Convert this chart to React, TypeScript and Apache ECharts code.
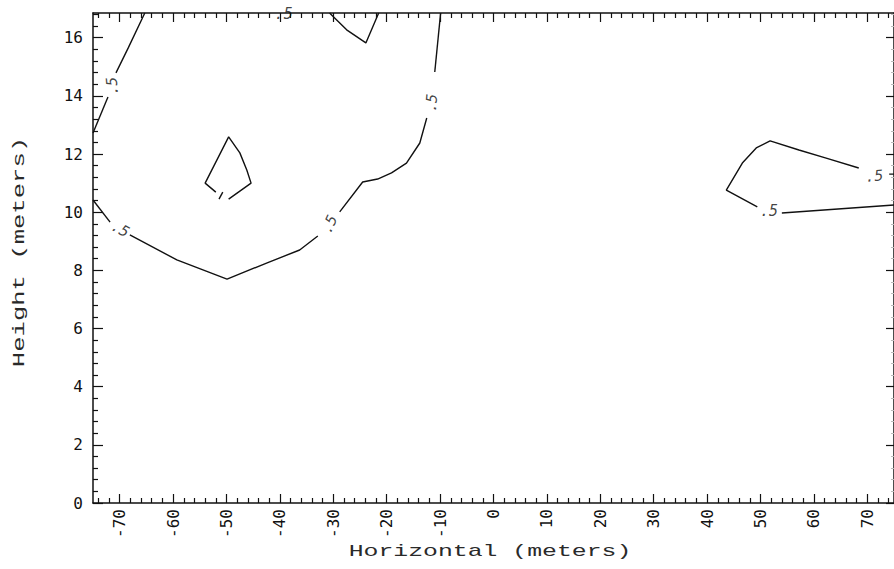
import React, { useEffect, useRef } from "react";
import * as echarts from "echarts";

// ---- axis ranges & ticks ----
const X_RANGE = [-75, 75];
const Y_RANGE = [0, 16.85];
const xMajorTicks = [-70, -60, -50, -40, -30, -20, -10, 0, 10, 20, 30, 40, 50, 60, 70];
const xMinorTicks = [-74, -72, -68, -66, -64, -62, -58, -56, -54, -52, -48, -46, -44, -42, -38, -36, -34, -32, -28, -26, -24, -22, -18, -16, -14, -12, -8, -6, -4, -2, 2, 4, 6, 8, 12, 14, 16, 18, 22, 24, 26, 28, 32, 34, 36, 38, 42, 44, 46, 48, 52, 54, 56, 58, 62, 64, 66, 68, 72, 74];
const yMajorTicks = [0, 2, 4, 6, 8, 10, 12, 14, 16];
const yMinorTicks = [0.4, 0.8, 1.2, 1.6, 2.4, 2.8, 3.2, 3.6, 4.4, 4.8, 5.2, 5.6, 6.4, 6.8, 7.2, 7.6, 8.4, 8.8, 9.2, 9.6, 10.4, 10.8, 11.2, 11.6, 12.4, 12.8, 13.2, 13.6, 14.4, 14.8, 15.2, 15.6, 16.4, 16.8];

// ---- contour (level .5) segments, [horizontal m, height m] ----
const contourA1 = [[-75.0, 10.42], [-71.8, 9.66]];
const contourA2 = [[-68.1, 9.22], [-59.3, 8.36], [-49.9, 7.7], [-42.5, 8.25], [-36.3, 8.7], [-32.9, 9.18]];
const contourA3 = [[-28.8, 10.01], [-24.5, 11.04], [-21.7, 11.14], [-19.1, 11.35], [-16.3, 11.69], [-13.8, 12.38], [-12.5, 13.24]];
const contourA4 = [[-11.0, 14.82], [-9.9, 16.85]];
const contourB1 = [[-65.3, 16.85], [-68.4, 15.65], [-70.7, 14.79]];
const contourB2 = [[-72.2, 13.96], [-75.0, 12.72]];
const contourC = [[-52.0, 10.69], [-54.0, 11.0], [-49.6, 12.59], [-47.5, 12.04], [-46.2, 11.45], [-45.4, 11.0], [-49.6, 10.45]];
const contourCMark = [[-51.4, 10.45], [-50.7, 10.69]];
const contourD = [[-30.7, 16.85], [-27.5, 16.27], [-23.9, 15.82], [-21.5, 16.85]];
const contourE1 = [[68.4, 11.52], [62.3, 11.86], [57.2, 12.14], [51.8, 12.45], [49.2, 12.21], [46.6, 11.69], [43.6, 10.76], [49.4, 10.18]];
const contourE2 = [[54.0, 9.97], [75.0, 10.25]];
const contourE3 = [[74.1, 11.31], [75.0, 11.31]];

const contourSegments = [contourA1, contourA2, contourA3, contourA4, contourB1, contourB2, contourC, contourCMark, contourD, contourE1, contourE2, contourE3];

// ---- contour labels ----
const contourLevelText = ".5";
const contourLabelPoints = [[-69.9, 9.42], [-30.7, 9.59], [-11.6, 13.76], [-71.4, 14.34], [-39.3, 16.8], [51.6, 10.03], [71.3, 11.24]];
const contourLabelAngles = [-28, 65, 85, 95, 0, 0, 5];

const INK = "#111";
const MONO = '"DejaVu Sans Mono", "Liberation Mono", monospace';
const TITLE_FONT = '"Liberation Mono", "DejaVu Sans Mono", monospace';

export default function App() {
  const ref = useRef<HTMLDivElement>(null);

  useEffect(() => {
    if (!ref.current) return;
    const chart = echarts.init(ref.current, undefined, { renderer: "svg" });

    const axisLineStyle = { color: INK, width: 1.5 };
    const tickLine = { color: INK, width: 1.2 };

    const xBase = {
      type: "value" as const,
      min: X_RANGE[0],
      max: X_RANGE[1],
      splitLine: { show: false },
      axisLine: { show: false, onZero: false },
      axisLabel: { show: false },
    };
    const yBase = {
      type: "value" as const,
      min: Y_RANGE[0],
      max: Y_RANGE[1],
      splitLine: { show: false },
      axisLine: { show: false, onZero: false },
      axisLabel: { show: false },
    };

    const series: any[] = contourSegments.map((seg) => ({
      type: "line",
      data: seg,
      showSymbol: false,
      symbol: "none",
      silent: true,
      lineStyle: { color: INK, width: 1.4 },
      z: 3,
    }));

    series.push({
      type: "scatter",
      silent: true,
      symbolSize: 1,
      itemStyle: { color: "rgba(0,0,0,0)" },
      data: contourLabelPoints.map((p, i) => ({
        value: p,
        label: { rotate: contourLabelAngles[i] },
      })),
      label: {
        show: true,
        position: "inside",
        formatter: () => contourLevelText,
        fontFamily: MONO,
        fontStyle: "italic",
        fontSize: 15,
        color: INK,
      },
      z: 4,
    });

    chart.setOption({
      animation: false,
      backgroundColor: "#fff",
      grid: { left: 93, top: 13, width: 802, height: 490, containLabel: false },
      xAxis: [
        {
          ...xBase,
          position: "bottom",
          axisLine: { show: true, onZero: false, lineStyle: axisLineStyle },
          axisTick: { show: true, inside: true, length: 9, customValues: xMajorTicks, lineStyle: tickLine },
          axisLabel: {
            show: true,
            customValues: xMajorTicks,
            rotate: 90,
            margin: 6,
            fontFamily: MONO,
            fontSize: 16,
            color: INK,
          },
        },
        {
          ...xBase,
          position: "bottom",
          axisTick: { show: true, inside: true, length: 5, customValues: xMinorTicks, lineStyle: tickLine },
        },
        {
          ...xBase,
          position: "top",
          axisLine: { show: true, onZero: false, lineStyle: axisLineStyle },
          axisTick: { show: true, inside: true, length: 9, customValues: xMajorTicks, lineStyle: tickLine },
        },
        {
          ...xBase,
          position: "top",
          axisTick: { show: true, inside: true, length: 5, customValues: xMinorTicks, lineStyle: tickLine },
        },
      ],
      yAxis: [
        {
          ...yBase,
          position: "left",
          axisLine: { show: true, onZero: false, lineStyle: axisLineStyle },
          axisTick: { show: true, inside: true, length: 10, customValues: yMajorTicks, lineStyle: tickLine },
          axisLabel: {
            show: true,
            customValues: yMajorTicks,
            margin: 10,
            fontFamily: MONO,
            fontSize: 16,
            color: INK,
          },
        },
        {
          ...yBase,
          position: "left",
          axisTick: { show: true, inside: true, length: 5, customValues: yMinorTicks, lineStyle: tickLine },
        },
        {
          ...yBase,
          position: "right",
          axisLine: { show: true, onZero: false, lineStyle: axisLineStyle },
          axisTick: { show: true, inside: true, length: 8, customValues: yMajorTicks, lineStyle: tickLine },
        },
        {
          ...yBase,
          position: "right",
          axisTick: { show: true, inside: true, length: 3, customValues: yMinorTicks, lineStyle: { color: "#bbb", width: 1 } },
        },
      ],
      graphic: [
        {
          type: "text",
          x: 490,
          y: 552,
          scaleX: 1.55,
          silent: true,
          style: {
            text: "Horizontal (meters)",
            font: `16px ${TITLE_FONT}`,
            fill: "#2a2a2a",
            align: "center",
            verticalAlign: "middle",
          },
        },
        {
          type: "text",
          x: 20,
          y: 252,
          rotation: Math.PI / 2,
          scaleX: 1.6,
          silent: true,
          style: {
            text: "Height (meters)",
            font: `16px ${TITLE_FONT}`,
            fill: "#2a2a2a",
            align: "center",
            verticalAlign: "middle",
          },
        },
      ],
      series,
    });

    return () => chart.dispose();
  }, []);

  return (
    <div
      ref={ref}
      style={{ position: "absolute", left: 0, top: 0, width: 894, height: 569, background: "#fff" }}
    />
  );
}
